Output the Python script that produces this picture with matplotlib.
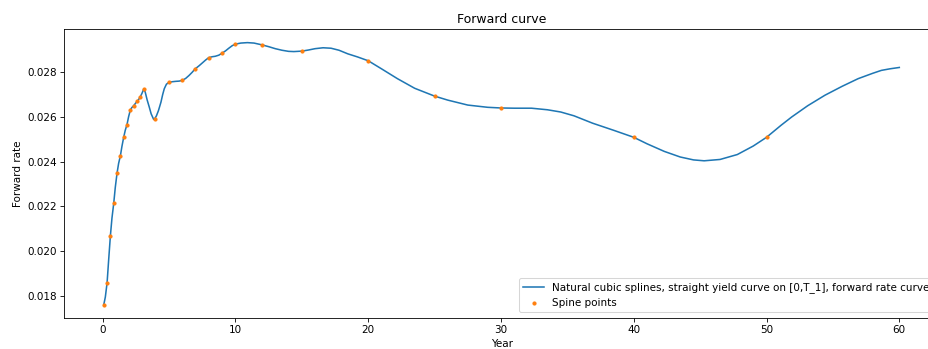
import matplotlib
matplotlib.use("Agg")
import matplotlib.pyplot as plt

# Knot (spine) points of the forward curve: maturity in years and forward rate
spine_years = [0.083, 0.333, 0.583, 0.833, 1.083, 1.333, 1.583, 1.833,
               2.083, 2.333, 2.583, 2.833, 3.083, 3.92, 4.97, 5.98, 6.95,
               7.99, 8.99, 9.98, 12.0, 15.0, 20.0, 25.0, 30.0, 40.0, 50.0]
spine_rates = [0.01761, 0.01859, 0.02070, 0.02214, 0.02349, 0.02426, 0.02509,
               0.02566, 0.02631, 0.02650, 0.02669, 0.02690, 0.02723, 0.02592,
               0.02754, 0.02763, 0.02814, 0.02865, 0.02885, 0.02925, 0.02922,
               0.02894, 0.02851, 0.02693, 0.02640, 0.02509, 0.02509]

# Sampled forward rate curve (natural cubic spline fit), years and rates
curve_years = [0.083, 0.2, 0.333, 0.45, 0.583, 0.7, 0.833, 0.95, 1.083, 1.2,
               1.333, 1.45, 1.583, 1.7, 1.833, 1.95, 2.083, 2.2, 2.333, 2.45,
               2.583, 2.7, 2.833, 2.95, 3.083, 3.2, 3.35, 3.51, 3.65, 3.84,
               3.92, 4.05, 4.2, 4.39, 4.52, 4.64, 4.8, 4.97, 5.2, 5.5, 5.75,
               5.98, 6.25, 6.5, 6.75, 6.95, 7.25, 7.5, 7.75, 7.99, 8.25, 8.48,
               8.75, 8.99, 9.25, 9.5, 9.75, 9.98, 10.4, 10.9, 11.4, 12.0, 12.5,
               13.0, 13.5, 14.0, 14.4, 15.0, 15.5, 16.0, 16.6, 17.2, 17.8,
               18.46, 19.2, 20.0, 21.0, 22.2, 23.5, 25.0, 26.0, 27.5, 29.0,
               30.0, 31.0, 32.3, 33.5, 34.5, 35.5, 36.9, 38.5, 40.0, 41.0,
               42.3, 43.5, 44.5, 45.3, 46.5, 47.8, 49.0, 50.0, 51.1, 51.9,
               53.1, 54.4, 55.7, 56.9, 58.0, 58.65, 59.3, 60.0]
curve_rates = [0.01761, 0.01795, 0.01859, 0.01960, 0.02070, 0.02148, 0.02214,
               0.02285, 0.02349, 0.02392, 0.02426, 0.02468, 0.02509, 0.02540,
               0.02566, 0.02600, 0.02631, 0.02642, 0.02650, 0.02659, 0.02669,
               0.02677, 0.02690, 0.02704, 0.02723, 0.02712, 0.02676, 0.02644,
               0.02614, 0.02589, 0.02592, 0.02605, 0.02628, 0.02666, 0.02700,
               0.02726, 0.02746, 0.02754, 0.02757, 0.02759, 0.02760, 0.02763,
               0.02772, 0.02785, 0.02800, 0.02814, 0.02828, 0.02841, 0.02854,
               0.02865, 0.02869, 0.02871, 0.02876, 0.02885, 0.02895, 0.02907,
               0.02918, 0.02925, 0.02930, 0.02932, 0.02930, 0.02922, 0.02914,
               0.02905, 0.02898, 0.02893, 0.02892, 0.02894, 0.02899, 0.02905,
               0.02909, 0.02907, 0.02898, 0.02882, 0.02868, 0.02851, 0.02815,
               0.02771, 0.02728, 0.02693, 0.02675, 0.02653, 0.02643, 0.02640,
               0.02639, 0.02639, 0.02632, 0.02622, 0.02605, 0.02572, 0.02540,
               0.02509, 0.02480, 0.02446, 0.02421, 0.02408, 0.02404, 0.02410,
               0.02432, 0.02470, 0.02509, 0.02563, 0.02600, 0.02650, 0.02697,
               0.02737, 0.02771, 0.02795, 0.02808, 0.02815, 0.02821]

DPI = 75
fig = plt.figure(figsize=(928 / DPI, 349 / DPI), dpi=DPI)
ax = fig.add_axes([0.069, 0.0897, 0.943, 0.826])

ax.plot(curve_years, curve_rates, color="#1f77b4", linewidth=1.5,
        label="Natural cubic splines, straight yield curve on [0,T_1], forward rate curve")
ax.plot(spine_years, spine_rates, ".", color="#ff7f0e", label="Spine points")

ax.set_xlim(-2.91, 63.0)
ax.set_ylim(0.01703, 0.02991)
ax.set_xticks([0, 10, 20, 30, 40, 50, 60])
ax.set_yticks([0.018, 0.020, 0.022, 0.024, 0.026, 0.028])
ax.set_yticklabels(["0.018", "0.020", "0.022", "0.024", "0.026", "0.028"])

ax.set_title("Forward curve")
ax.set_xlabel("Year")
ax.set_ylabel("Forward rate")
ax.legend(loc="lower right")

fig.savefig("out.png", dpi=DPI)
